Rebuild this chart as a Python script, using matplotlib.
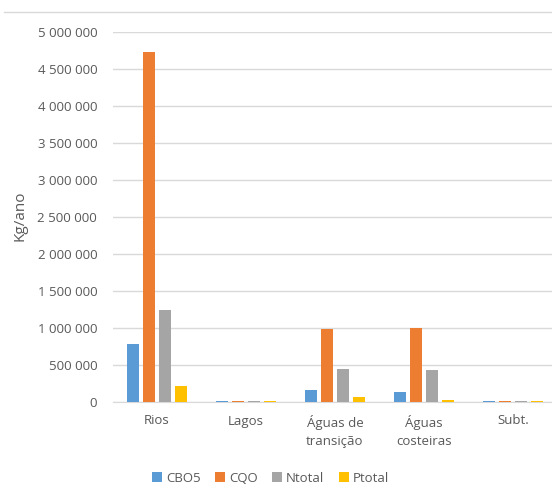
import matplotlib
matplotlib.use("Agg")
import matplotlib.pyplot as plt
from matplotlib.lines import Line2D
import numpy as np

categories = ["Rios", "Lagos", "Águas de\ntransição", "Águas\ncosteiras", "Subt."]
series_names = ["CBO5", "CQO", "Ntotal", "Ptotal"]
cbo5 = [780000, 15000, 162000, 130000, 15000]
cqo = [4730000, 15000, 985000, 1000000, 15000]
ntotal = [1243000, 15000, 450000, 437000, 15000]
ptotal = [220000, 15000, 62000, 31000, 15000]
yticks = [0, 500000, 1000000, 1500000, 2000000, 2500000, 3000000, 3500000, 4000000, 4500000, 5000000]
colors = ["#5B9BD5", "#ED7D31", "#A5A5A5", "#FFC000"]

plt.rcParams['font.family'] = ['Open Sans', 'DejaVu Sans']
text_color = "#595959"

W, H = 552, 495
fig = plt.figure(figsize=(W / 100, H / 100), dpi=100)
# plot area runs slightly past the right edge of the figure
ax = fig.add_axes([112.5 / W, 1 - 402 / H, 445 / W, 370 / H])

x = np.arange(len(categories))
width = 0.143
step = 0.18
for i, (vals, c, name) in enumerate(zip([cbo5, cqo, ntotal, ptotal], colors, series_names)):
    ax.bar(x + (i - 1.5) * step, vals, width=width, color=c, label=name, zorder=3)

ax.set_xlim(-0.5, len(categories) - 0.5)
ax.set_ylim(0, 5000000)
ax.set_yticks(yticks)
ax.set_yticklabels([f"{v:,}".replace(",", " ") for v in yticks])
ax.set_xticks(x)
ax.set_xticklabels(categories, linespacing=1.55)
ax.tick_params(axis='both', length=0, labelsize=9.5, colors=text_color)
ax.tick_params(axis='y', pad=11)
ax.tick_params(axis='x', pad=9)
ax.grid(axis='y', color="#d9d9d9", linewidth=1, zorder=0)
for s in ["top", "right", "left"]:
    ax.spines[s].set_visible(False)
ax.spines["bottom"].set_color("#d9d9d9")

fig.text(20 / W, 1 - 216 / H, "Kg/ano", rotation=90, ha="center", va="center",
         color=text_color, fontsize=11)

leg = fig.legend(loc="center", bbox_to_anchor=(0.49, 1 - 478 / H), ncol=4, frameon=False,
                 fontsize=9.5, handlelength=0.75, handleheight=0.75, handletextpad=0.3,
                 columnspacing=1.1)
for t in leg.get_texts():
    t.set_color(text_color)

fig.add_artist(Line2D([4 / W, 1], [1 - 12 / H, 1 - 12 / H], color="#d9d9d9", linewidth=1))

fig.savefig("out.png", dpi=100)
